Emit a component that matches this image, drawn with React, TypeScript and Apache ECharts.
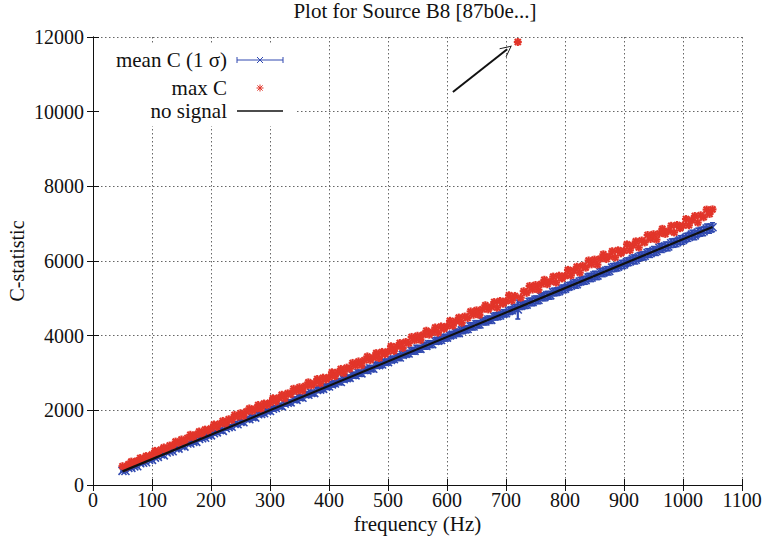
import React, { useEffect, useRef } from "react";
import * as echarts from "echarts";

const TITLE = "Plot for Source B8 [87b0e...]";
const X_NAME = "frequency (Hz)";
const Y_NAME = "C-statistic";
const LEGEND_NAMES = ["mean C (1 \u03c3)", "max C", "no signal"];

// frequency grid (Hz): first value and step of the sampled frequencies
const FREQ_START = 50;
const FREQ_STEP = 5;

// mean C per frequency
const MEAN_C = [
  377, 375, 458, 457, 500, 501, 581, 597, 608, 673,
  674, 733, 754, 818, 792, 872, 894, 905, 981, 973,
  1038, 1028, 1113, 1111, 1154, 1156, 1235, 1251, 1266, 1324,
  1328, 1387, 1409, 1470, 1450, 1524, 1549, 1559, 1636, 1628,
  1692, 1681, 1772, 1761, 1814, 1806, 1894, 1901, 1921, 1978,
  1983, 2041, 2063, 2124, 2105, 2178, 2203, 2213, 2290, 2281,
  2346, 2336, 2426, 2416, 2468, 2460, 2548, 2556, 2575, 2633,
  2637, 2696, 2718, 2779, 2759, 2833, 2858, 2868, 2944, 2937,
  3001, 2990, 3081, 3071, 3123, 3115, 3203, 3211, 3229, 3288,
  3292, 3350, 3372, 3434, 3414, 3487, 3512, 3523, 3599, 3591,
  3655, 3645, 3736, 3725, 3777, 3770, 3858, 3865, 3884, 3943,
  3947, 4005, 4027, 4089, 4068, 4142, 4167, 4177, 4253, 4246,
  4310, 4299, 4390, 4380, 4432, 4424, 4512, 4520, 4539, 4597,
  4601, 4660, 4682, 4743, 4700, 4797, 4821, 4832, 4908, 4900,
  4964, 4954, 5045, 5034, 5086, 5079, 5167, 5174, 5193, 5252,
  5256, 5314, 5336, 5398, 5378, 5451, 5476, 5487, 5563, 5555,
  5619, 5608, 5699, 5689, 5741, 5733, 5821, 5829, 5848, 5906,
  5910, 5969, 5991, 6052, 6032, 6106, 6131, 6141, 6217, 6210,
  6274, 6263, 6354, 6344, 6395, 6388, 6476, 6483, 6502, 6561,
  6565, 6623, 6645, 6707, 6687, 6760, 6785, 6796, 6872, 6864,
  6905,
];

// 1 sigma of C per frequency
const SIGMA_C = [
  27, 28, 29, 30, 31, 32, 33, 34, 35, 36,
  37, 38, 39, 40, 40, 41, 42, 43, 43, 44,
  45, 46, 46, 47, 48, 48, 49, 50, 50, 51,
  52, 52, 53, 54, 54, 55, 55, 56, 57, 57,
  58, 58, 59, 59, 60, 60, 61, 61, 62, 62,
  63, 63, 64, 65, 65, 66, 66, 67, 67, 68,
  68, 69, 69, 70, 70, 71, 71, 72, 72, 73,
  73, 74, 74, 75, 75, 76, 76, 76, 77, 77,
  78, 78, 79, 79, 80, 80, 80, 81, 81, 82,
  82, 82, 83, 83, 84, 84, 84, 85, 85, 86,
  86, 86, 87, 87, 88, 88, 88, 89, 89, 89,
  90, 90, 90, 91, 91, 92, 92, 92, 93, 93,
  93, 94, 94, 94, 95, 95, 95, 96, 96, 96,
  97, 97, 97, 98, 254, 98, 99, 99, 99, 100,
  100, 100, 101, 101, 101, 102, 102, 102, 103, 103,
  103, 104, 104, 104, 105, 105, 105, 106, 106, 106,
  107, 107, 107, 108, 108, 108, 109, 109, 109, 110,
  110, 110, 110, 111, 111, 111, 112, 112, 112, 113,
  113, 113, 114, 114, 114, 115, 115, 115, 115, 116,
  116, 116, 117, 117, 117, 118, 118, 118, 118, 119,
  119,
];

// max C per frequency
const MAX_C = [
  504, 474, 552, 626, 592, 647, 721, 677, 774, 764,
  819, 914, 856, 942, 1005, 947, 1057, 1048, 1162, 1129,
  1219, 1158, 1260, 1345, 1283, 1350, 1432, 1366, 1483, 1451,
  1514, 1621, 1553, 1639, 1716, 1639, 1761, 1743, 1877, 1827,
  1924, 1847, 1966, 2050, 1983, 2039, 2144, 2046, 2182, 2144,
  2204, 2324, 2235, 2333, 2417, 2318, 2454, 2432, 2577, 2516,
  2619, 2528, 2654, 2749, 2668, 2728, 2839, 2726, 2875, 2825,
  2887, 3019, 2914, 3018, 3109, 2995, 3143, 3113, 3270, 3198,
  3310, 3205, 3342, 3444, 3348, 3413, 3532, 3401, 3564, 3504,
  3573, 3716, 3592, 3708, 3802, 3670, 3831, 3795, 3966, 3881,
  3997, 3884, 4027, 4132, 4027, 4095, 4219, 4077, 4248, 4183,
  4250, 4399, 4267, 4387, 4484, 4344, 4512, 4471, 4649, 4559,
  4678, 4557, 4705, 4815, 4703, 4772, 4900, 4750, 4928, 4857,
  4925, 5082, 4941, 5064, 11866, 5017, 5191, 5147, 5332, 5235,
  5358, 5230, 5384, 5497, 5378, 5450, 5582, 5422, 5607, 5532,
  5601, 5762, 5613, 5742, 5846, 5688, 5869, 5822, 6014, 5911,
  6038, 5902, 6061, 6179, 6052, 6125, 6262, 6094, 6286, 6205,
  6276, 6445, 6287, 6420, 6526, 6361, 6549, 6497, 6696, 6588,
  6718, 6574, 6739, 6861, 6725, 6801, 6943, 6765, 6964, 6879,
  6950, 7123, 6957, 7095, 7205, 7030, 7224, 7170, 7376, 7261,
  7383,
];

// "no signal" expectation line: endpoints [frequency, C]
const NO_SIGNAL = [
  [50, 365],
  [1050, 6911],
];

// arrow pointing at the outlier: [frequency, C] start and end
const ARROW_FROM = [610, 10527];
const ARROW_TO = [702, 11670];

const FONT = "Liberation Serif, Times New Roman, serif";
const BLUE = "#3049b0";
const RED = "#e2352a";
const INK = "#111111";

function meanRender(params: any, api: any) {
  const f = api.value(0);
  const m = api.value(1);
  const s = api.value(2);
  const c = api.coord([f, m]);
  const t = api.coord([f, m + s]);
  const b = api.coord([f, m - s]);
  const cap = 2.5;
  const xm = 4;
  const st = { stroke: BLUE, lineWidth: 2.2 };
  const sx = { stroke: BLUE, lineWidth: 1.6 };
  return {
    type: "group",
    children: [
      { type: "line", shape: { x1: c[0], y1: t[1], x2: c[0], y2: b[1] }, style: st },
      { type: "line", shape: { x1: c[0] - cap, y1: t[1], x2: c[0] + cap, y2: t[1] }, style: sx },
      { type: "line", shape: { x1: c[0] - cap, y1: b[1], x2: c[0] + cap, y2: b[1] }, style: sx },
      { type: "line", shape: { x1: c[0] - xm, y1: c[1] - xm, x2: c[0] + xm, y2: c[1] + xm }, style: sx },
      { type: "line", shape: { x1: c[0] - xm, y1: c[1] + xm, x2: c[0] + xm, y2: c[1] - xm }, style: sx },
    ],
  };
}

function starChildren(x: number, y: number, color: string, w: number, r: number) {
  const d = r * 0.75;
  const st = { stroke: color, lineWidth: w };
  return [
    { type: "line", shape: { x1: x - r, y1: y, x2: x + r, y2: y }, style: st },
    { type: "line", shape: { x1: x, y1: y - r, x2: x, y2: y + r }, style: st },
    { type: "line", shape: { x1: x - d, y1: y - d, x2: x + d, y2: y + d }, style: st },
    { type: "line", shape: { x1: x - d, y1: y + d, x2: x + d, y2: y - d }, style: st },
  ];
}

function maxRender(params: any, api: any) {
  const c = api.coord([api.value(0), api.value(1)]);
  return { type: "group", children: starChildren(c[0], c[1], RED, 2.2, 4) };
}

export default function App() {
  const ref = useRef<HTMLDivElement>(null);

  useEffect(() => {
    if (!ref.current) return;
    const chart = echarts.init(ref.current, null, { renderer: "svg" });
    const freqs = MEAN_C.map((_, i) => FREQ_START + i * FREQ_STEP);
    const meanData = freqs.map((f, i) => [f, MEAN_C[i], SIGMA_C[i]]);
    const maxData = freqs.map((f, i) => [f, MAX_C[i]]);

    const axisLine = { show: true, lineStyle: { color: INK, width: 1 } };
    const axisTick = { show: true, inside: true, length: 6, lineStyle: { color: INK, width: 1 } };
    const splitLine = { show: true, lineStyle: { color: "#666", width: 1, type: [1.5, 2.5] as any } };
    const labelStyle = {
      fontFamily: FONT,
      fontSize: 20,
      color: INK,
      formatter: (v: number) => String(v),
    };

    const lx = 237;
    const rx = 283;
    const mx = 260;
    const tx = 227;
    const y1 = 60;
    const y2 = 88;
    const y3 = 111;
    const lst = { stroke: BLUE, lineWidth: 1 };
    const legendText = (text: string, y: number) => ({
      type: "text",
      x: tx,
      y,
      z: 11,
      style: {
        text,
        fontFamily: FONT,
        fontSize: 21,
        fill: INK,
        align: "right",
        verticalAlign: "middle",
      },
    });

    chart.setOption({
      animation: false,
      backgroundColor: "#ffffff",
      title: {
        text: TITLE,
        left: 415,
        top: 0,
        padding: 0,
        textAlign: "center",
        textStyle: { fontFamily: FONT, fontSize: 21, fontWeight: "normal", color: INK },
      },
      grid: {
        left: 93,
        right: 27,
        top: 37,
        bottom: 57,
        containLabel: false,
        outerBoundsMode: "none",
      },
      xAxis: [
        {
          type: "value",
          min: 0,
          max: 1100,
          interval: 100,
          position: "bottom",
          name: X_NAME,
          nameLocation: "middle",
          nameGap: 28,
          nameMoveOverlap: false,
          nameTextStyle: { fontFamily: FONT, fontSize: 21, color: INK },
          axisLine,
          axisTick,
          axisLabel: { ...labelStyle, margin: 5 },
          splitLine,
        },
        {
          type: "value",
          min: 0,
          max: 1100,
          interval: 100,
          position: "top",
          axisLine,
          axisTick,
          axisLabel: { show: false },
          splitLine: { show: false },
        },
      ],
      yAxis: [
        {
          type: "value",
          min: 0,
          max: 12000,
          interval: 2000,
          position: "left",
          name: Y_NAME,
          nameLocation: "middle",
          nameGap: 66,
          nameRotate: 90,
          nameMoveOverlap: false,
          nameTextStyle: { fontFamily: FONT, fontSize: 20, color: INK },
          axisLine,
          axisTick,
          axisLabel: { ...labelStyle, margin: 9 },
          splitLine,
        },
        {
          type: "value",
          min: 0,
          max: 12000,
          interval: 2000,
          position: "right",
          axisLine,
          axisTick,
          axisLabel: { show: false },
          splitLine: { show: false },
        },
      ],
      series: [
        {
          name: LEGEND_NAMES[0],
          type: "custom",
          xAxisIndex: 0,
          yAxisIndex: 0,
          renderItem: meanRender,
          encode: { x: 0, y: 1 },
          data: meanData,
          z: 2,
          silent: true,
        },
        {
          name: LEGEND_NAMES[1],
          type: "custom",
          xAxisIndex: 0,
          yAxisIndex: 0,
          renderItem: maxRender,
          encode: { x: 0, y: 1 },
          data: maxData,
          z: 3,
          silent: true,
        },
        {
          name: LEGEND_NAMES[2],
          type: "line",
          xAxisIndex: 0,
          yAxisIndex: 0,
          data: NO_SIGNAL,
          symbol: "none",
          lineStyle: { color: INK, width: 2.2 },
          z: 4,
          silent: true,
          markLine: {
            silent: true,
            symbol: ["none", "path://M0,0L10,12L9,13L0,2.2L-9,13L-10,12Z"],
            symbolSize: [11, 12],
            label: { show: false },
            lineStyle: { color: INK, width: 2, type: "solid" },
            data: [[{ coord: ARROW_FROM }, { coord: ARROW_TO }]],
          },
        },
      ],
      graphic: [
        {
          type: "rect",
          z: 10,
          shape: { x: 100, y: 44, width: 195, height: 82 },
          style: { fill: "#ffffff" },
        },
        legendText(LEGEND_NAMES[0], y1),
        legendText(LEGEND_NAMES[1], y2),
        legendText(LEGEND_NAMES[2], y3),
        { type: "line", z: 11, shape: { x1: lx, y1: y1, x2: rx, y2: y1 }, style: lst },
        { type: "line", z: 11, shape: { x1: lx, y1: y1 - 3, x2: lx, y2: y1 + 3 }, style: lst },
        { type: "line", z: 11, shape: { x1: rx, y1: y1 - 3, x2: rx, y2: y1 + 3 }, style: lst },
        { type: "line", z: 11, shape: { x1: mx - 3, y1: y1 - 3, x2: mx + 3, y2: y1 + 3 }, style: lst },
        { type: "line", z: 11, shape: { x1: mx - 3, y1: y1 + 3, x2: mx + 3, y2: y1 - 3 }, style: lst },
        ...starChildren(mx, y2, RED, 1, 3.5).map((c) => ({ ...c, z: 11 })),
        { type: "line", z: 11, shape: { x1: lx, y1: y3, x2: rx, y2: y3 }, style: { stroke: INK, lineWidth: 1.5 } },
      ],
    });

    return () => chart.dispose();
  }, []);

  return (
    <div
      ref={ref}
      style={{ position: "fixed", left: 0, top: 0, width: 769, height: 542, background: "#fff" }}
    />
  );
}
